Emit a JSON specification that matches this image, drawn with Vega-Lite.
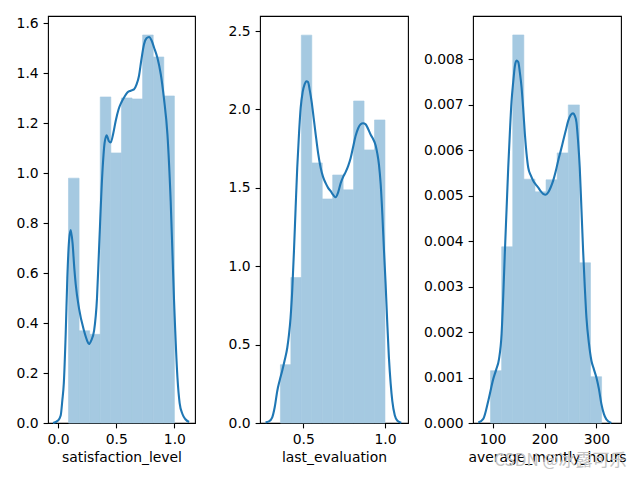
{
  "$schema": "https://vega.github.io/schema/vega-lite/v6.json",
  "padding": {"left": 15, "top": 15, "right": 0, "bottom": 0},
  "spacing": 65,
  "bounds": "flush",
  "title": {"text": "CSDN @冰露可乐", "orient": "bottom", "anchor": "end", "color": "#c4c4c4", "fontSize": 17, "font": "Noto Sans CJK SC", "fontWeight": "normal", "offset": -12, "frame": "bounds"},
  "datasets": {
    "hist1": [
      {"x0": 0.09, "x1": 0.181, "d": 0.98},
      {"x0": 0.181, "x1": 0.272, "d": 0.369},
      {"x0": 0.272, "x1": 0.363, "d": 0.355},
      {"x0": 0.363, "x1": 0.454, "d": 1.305},
      {"x0": 0.454, "x1": 0.545, "d": 1.081},
      {"x0": 0.545, "x1": 0.636, "d": 1.301},
      {"x0": 0.636, "x1": 0.727, "d": 1.297},
      {"x0": 0.727, "x1": 0.818, "d": 1.553},
      {"x0": 0.818, "x1": 0.909, "d": 1.465},
      {"x0": 0.909, "x1": 1.0, "d": 1.309}
    ],
    "kde1": [
      {"x": -0.043, "d": 0.0},
      {"x": 0.0, "d": 0.01},
      {"x": 0.023, "d": 0.03},
      {"x": 0.037, "d": 0.09},
      {"x": 0.05, "d": 0.16},
      {"x": 0.066, "d": 0.356},
      {"x": 0.08, "d": 0.58},
      {"x": 0.095, "d": 0.73},
      {"x": 0.109, "d": 0.772},
      {"x": 0.125, "d": 0.72},
      {"x": 0.14, "d": 0.62},
      {"x": 0.152, "d": 0.556},
      {"x": 0.18, "d": 0.46},
      {"x": 0.223, "d": 0.37},
      {"x": 0.25, "d": 0.33},
      {"x": 0.266, "d": 0.316},
      {"x": 0.285, "d": 0.33},
      {"x": 0.31, "d": 0.37},
      {"x": 0.335, "d": 0.5},
      {"x": 0.352, "d": 0.69},
      {"x": 0.381, "d": 1.0},
      {"x": 0.4, "d": 1.12},
      {"x": 0.418, "d": 1.152},
      {"x": 0.435, "d": 1.13},
      {"x": 0.453, "d": 1.123},
      {"x": 0.475, "d": 1.16},
      {"x": 0.496, "d": 1.21},
      {"x": 0.52, "d": 1.255},
      {"x": 0.544, "d": 1.283},
      {"x": 0.57, "d": 1.305},
      {"x": 0.596, "d": 1.323},
      {"x": 0.625, "d": 1.33},
      {"x": 0.653, "d": 1.335},
      {"x": 0.675, "d": 1.355},
      {"x": 0.696, "d": 1.39},
      {"x": 0.715, "d": 1.45},
      {"x": 0.739, "d": 1.516},
      {"x": 0.76, "d": 1.54},
      {"x": 0.782, "d": 1.545},
      {"x": 0.805, "d": 1.53},
      {"x": 0.825, "d": 1.503},
      {"x": 0.855, "d": 1.46},
      {"x": 0.883, "d": 1.396},
      {"x": 0.91, "d": 1.3},
      {"x": 0.94, "d": 1.156},
      {"x": 0.968, "d": 0.889},
      {"x": 0.997, "d": 0.489},
      {"x": 1.026, "d": 0.183},
      {"x": 1.045, "d": 0.08},
      {"x": 1.069, "d": 0.036},
      {"x": 1.095, "d": 0.015},
      {"x": 1.126, "d": 0.004}
    ],
    "hist2": [
      {"x0": 0.36, "x1": 0.424, "d": 0.372},
      {"x0": 0.424, "x1": 0.488, "d": 0.928},
      {"x0": 0.488, "x1": 0.552, "d": 2.474},
      {"x0": 0.552, "x1": 0.616, "d": 1.659},
      {"x0": 0.616, "x1": 0.68, "d": 1.429},
      {"x0": 0.68, "x1": 0.744, "d": 1.582},
      {"x0": 0.744, "x1": 0.808, "d": 1.487},
      {"x0": 0.808, "x1": 0.872, "d": 2.054},
      {"x0": 0.872, "x1": 0.936, "d": 1.742},
      {"x0": 0.936, "x1": 1.0, "d": 1.933}
    ],
    "kde2": [
      {"x": 0.269, "d": 0.004},
      {"x": 0.29, "d": 0.01},
      {"x": 0.31, "d": 0.036},
      {"x": 0.325, "d": 0.1},
      {"x": 0.341, "d": 0.206},
      {"x": 0.355, "d": 0.27},
      {"x": 0.371, "d": 0.333},
      {"x": 0.386, "d": 0.4},
      {"x": 0.402, "d": 0.48},
      {"x": 0.412, "d": 0.56},
      {"x": 0.422, "d": 0.67},
      {"x": 0.433, "d": 0.86},
      {"x": 0.443, "d": 1.1},
      {"x": 0.453, "d": 1.37},
      {"x": 0.463, "d": 1.63},
      {"x": 0.474, "d": 1.85},
      {"x": 0.484, "d": 2.01},
      {"x": 0.496, "d": 2.11},
      {"x": 0.508, "d": 2.16},
      {"x": 0.519, "d": 2.18},
      {"x": 0.529, "d": 2.175},
      {"x": 0.54, "d": 2.12},
      {"x": 0.551, "d": 2.05},
      {"x": 0.563, "d": 1.95},
      {"x": 0.576, "d": 1.84},
      {"x": 0.591, "d": 1.72},
      {"x": 0.606, "d": 1.63},
      {"x": 0.621, "d": 1.57},
      {"x": 0.637, "d": 1.53},
      {"x": 0.652, "d": 1.5},
      {"x": 0.667, "d": 1.48},
      {"x": 0.683, "d": 1.455},
      {"x": 0.698, "d": 1.44},
      {"x": 0.713, "d": 1.47},
      {"x": 0.729, "d": 1.53},
      {"x": 0.744, "d": 1.57},
      {"x": 0.759, "d": 1.6},
      {"x": 0.775, "d": 1.64},
      {"x": 0.79, "d": 1.69},
      {"x": 0.805, "d": 1.76},
      {"x": 0.82, "d": 1.83},
      {"x": 0.836, "d": 1.88},
      {"x": 0.851, "d": 1.905},
      {"x": 0.866, "d": 1.912},
      {"x": 0.882, "d": 1.905},
      {"x": 0.897, "d": 1.875},
      {"x": 0.912, "d": 1.84},
      {"x": 0.928, "d": 1.81},
      {"x": 0.943, "d": 1.77},
      {"x": 0.953, "d": 1.72},
      {"x": 0.963, "d": 1.65},
      {"x": 0.974, "d": 1.52},
      {"x": 0.984, "d": 1.33},
      {"x": 0.994, "d": 1.1},
      {"x": 1.004, "d": 0.886},
      {"x": 1.014, "d": 0.64},
      {"x": 1.024, "d": 0.42},
      {"x": 1.035, "d": 0.25},
      {"x": 1.045, "d": 0.14},
      {"x": 1.06, "d": 0.05},
      {"x": 1.076, "d": 0.015},
      {"x": 1.1, "d": 0.002}
    ],
    "hist3": [
      {"x0": 96, "x1": 117.4, "d": 0.00115},
      {"x0": 117.4, "x1": 138.8, "d": 0.003875},
      {"x0": 138.8, "x1": 160.2, "d": 0.008535},
      {"x0": 160.2, "x1": 181.6, "d": 0.005363},
      {"x0": 181.6, "x1": 203, "d": 0.005084},
      {"x0": 203, "x1": 224.4, "d": 0.005348},
      {"x0": 224.4, "x1": 245.8, "d": 0.005941},
      {"x0": 245.8, "x1": 267.2, "d": 0.006996},
      {"x0": 267.2, "x1": 288.6, "d": 0.003524},
      {"x0": 288.6, "x1": 310, "d": 0.001018}
    ],
    "kde3": [
      {"x": 72.4, "d": 0.00001},
      {"x": 82, "d": 0.00009},
      {"x": 91.7, "d": 0.00049},
      {"x": 101.3, "d": 0.00097},
      {"x": 107, "d": 0.00118},
      {"x": 112.2, "d": 0.0014},
      {"x": 117.3, "d": 0.00196},
      {"x": 120.5, "d": 0.0028},
      {"x": 123.7, "d": 0.00379},
      {"x": 126.9, "d": 0.0047},
      {"x": 130.1, "d": 0.00562},
      {"x": 133.3, "d": 0.0064},
      {"x": 136.5, "d": 0.00708},
      {"x": 139.7, "d": 0.0075},
      {"x": 142.9, "d": 0.00785},
      {"x": 146.1, "d": 0.00797},
      {"x": 149.4, "d": 0.00794},
      {"x": 152.6, "d": 0.0077},
      {"x": 155.8, "d": 0.00738},
      {"x": 159, "d": 0.0069},
      {"x": 162.2, "d": 0.00635},
      {"x": 165.4, "d": 0.00592},
      {"x": 168.6, "d": 0.00562},
      {"x": 173.4, "d": 0.00545},
      {"x": 178.2, "d": 0.00533},
      {"x": 183, "d": 0.00525},
      {"x": 187.8, "d": 0.00518},
      {"x": 192.6, "d": 0.0051},
      {"x": 197.4, "d": 0.00504},
      {"x": 202.2, "d": 0.00502},
      {"x": 207, "d": 0.00507},
      {"x": 211.8, "d": 0.00518},
      {"x": 216.7, "d": 0.00533},
      {"x": 221.5, "d": 0.00553},
      {"x": 226.3, "d": 0.00577},
      {"x": 231.1, "d": 0.00598},
      {"x": 235.9, "d": 0.0062},
      {"x": 240.7, "d": 0.00642},
      {"x": 245.5, "d": 0.00664},
      {"x": 250.3, "d": 0.00677},
      {"x": 255.1, "d": 0.00681},
      {"x": 258.3, "d": 0.00676},
      {"x": 261.5, "d": 0.00662},
      {"x": 264.7, "d": 0.0062},
      {"x": 267.9, "d": 0.00562},
      {"x": 271.2, "d": 0.0047},
      {"x": 274.4, "d": 0.00379},
      {"x": 277.6, "d": 0.003},
      {"x": 280.8, "d": 0.00232},
      {"x": 285.6, "d": 0.00175},
      {"x": 290.4, "d": 0.00137},
      {"x": 295.2, "d": 0.00118},
      {"x": 300, "d": 0.001},
      {"x": 304.8, "d": 0.00075},
      {"x": 309.6, "d": 0.00042},
      {"x": 314.4, "d": 0.0002},
      {"x": 319.2, "d": 0.00008},
      {"x": 328.8, "d": 0.0}
    ]
  },
  "hconcat": [
    {
      "width": 147,
      "height": 407,
      "layer": [
        {
          "data": {"name": "hist1"},
          "mark": {"type": "bar", "color": "#a5c9e1", "stroke": "#a5c9e1", "strokeWidth": 0.6},
          "encoding": {
            "x": {"field": "x0", "type": "quantitative", "scale": {"domain": [-0.086, 1.177], "nice": false, "zero": false}, "axis": {"values": [0, 0.5, 1.0], "format": ".1f", "title": "satisfaction_level"}},
            "x2": {"field": "x1"},
            "y": {"field": "d", "type": "quantitative", "scale": {"domain": [0, 1.629], "nice": false}, "axis": {"values": [0, 0.2, 0.4, 0.6, 0.8, 1.0, 1.2, 1.4, 1.6], "format": ".1f", "title": null}},
            "y2": {"datum": 0}
          }
        },
        {
          "data": {"name": "kde1"},
          "mark": {"type": "line", "color": "#1f77b4", "strokeWidth": 2.1, "interpolate": "monotone"},
          "encoding": {
            "x": {"field": "x", "type": "quantitative"},
            "y": {"field": "d", "type": "quantitative"}
          }
        }
      ]
    },
    {
      "width": 148,
      "height": 407,
      "layer": [
        {
          "data": {"name": "hist2"},
          "mark": {"type": "bar", "color": "#a5c9e1", "stroke": "#a5c9e1", "strokeWidth": 0.6},
          "encoding": {
            "x": {"field": "x0", "type": "quantitative", "scale": {"domain": [0.235, 1.141], "nice": false, "zero": false}, "axis": {"values": [0.5, 1.0], "format": ".1f", "title": "last_evaluation"}},
            "x2": {"field": "x1"},
            "y": {"field": "d", "type": "quantitative", "scale": {"domain": [0, 2.596], "nice": false}, "axis": {"values": [0, 0.5, 1.0, 1.5, 2.0, 2.5], "format": ".1f", "title": null}},
            "y2": {"datum": 0}
          }
        },
        {
          "data": {"name": "kde2"},
          "mark": {"type": "line", "color": "#1f77b4", "strokeWidth": 2.1, "interpolate": "monotone"},
          "encoding": {
            "x": {"field": "x", "type": "quantitative"},
            "y": {"field": "d", "type": "quantitative"}
          }
        }
      ]
    },
    {
      "width": 148,
      "height": 407,
      "layer": [
        {
          "data": {"name": "hist3"},
          "mark": {"type": "bar", "color": "#a5c9e1", "stroke": "#a5c9e1", "strokeWidth": 0.6},
          "encoding": {
            "x": {"field": "x0", "type": "quantitative", "scale": {"domain": [62.2, 347.4], "nice": false, "zero": false}, "axis": {"values": [100, 200, 300], "format": "d", "title": "average_montly_hours"}},
            "x2": {"field": "x1"},
            "y": {"field": "d", "type": "quantitative", "scale": {"domain": [0, 0.008952], "nice": false}, "axis": {"values": [0, 0.001, 0.002, 0.003, 0.004, 0.005, 0.006, 0.007, 0.008], "format": ".3f", "title": null}},
            "y2": {"datum": 0}
          }
        },
        {
          "data": {"name": "kde3"},
          "mark": {"type": "line", "color": "#1f77b4", "strokeWidth": 2.1, "interpolate": "monotone"},
          "encoding": {
            "x": {"field": "x", "type": "quantitative"},
            "y": {"field": "d", "type": "quantitative"}
          }
        }
      ]
    }
  ],
  "config": {
    "font": "DejaVu Sans",
    "background": "white",
    "view": {"stroke": "black", "strokeWidth": 1.1},
    "axis": {
      "grid": false,
      "domain": false,
      "ticks": true,
      "tickColor": "black",
      "tickSize": 4.9,
      "tickWidth": 1.1,
      "labelFont": "DejaVu Sans",
      "labelFontSize": 13.9,
      "labelColor": "black",
      "labelPadding": 4.9,
      "labelFlush": false,
      "labelOverlap": false,
      "titleFont": "DejaVu Sans",
      "titleFontSize": 13.9,
      "titleFontWeight": "normal",
      "titleColor": "black",
      "titlePadding": 4
    }
  }
}
